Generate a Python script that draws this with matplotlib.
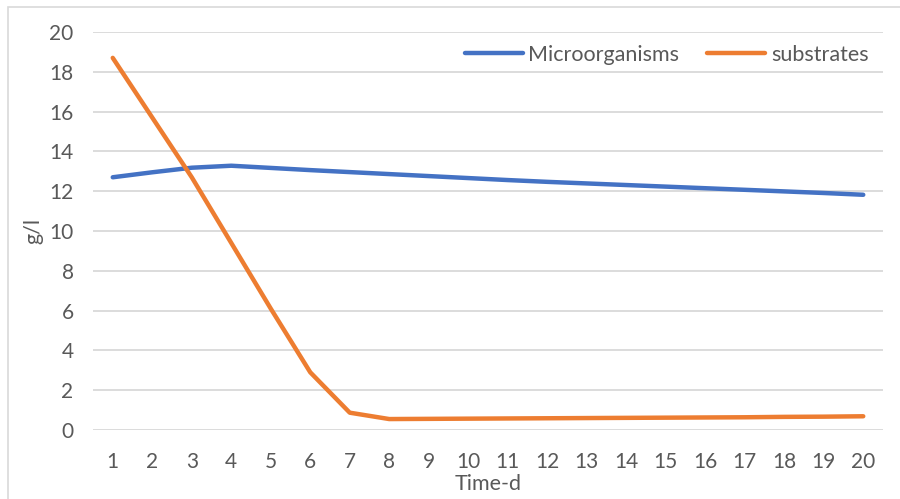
import matplotlib.pyplot as plt
from matplotlib.patches import Rectangle

# data
days = list(range(1, 21))
microorganisms = [12.70, 12.95, 13.18, 13.28, 13.17, 13.06, 12.96, 12.86, 12.76, 12.66,
                  12.56, 12.47, 12.39, 12.31, 12.23, 12.15, 12.07, 11.99, 11.91, 11.82]
substrates = [18.70, 15.70, 12.70, 9.40, 6.10, 2.90, 0.87, 0.55, 0.56, 0.57,
              0.58, 0.59, 0.60, 0.61, 0.62, 0.63, 0.64, 0.66, 0.67, 0.69]
yticks = list(range(0, 21, 2))

plt.rcParams['font.family'] = ['Lato', 'DejaVu Sans']
txt = '#595959'
grid = '#d9d9d9'

fig = plt.figure(figsize=(9, 4.99), dpi=100)
ax = fig.add_axes([93 / 900, 1 - 430 / 499, 790 / 900, 398 / 499])

ax.plot(days, microorganisms, color='#4472C4', lw=3.2, solid_capstyle='round',
        solid_joinstyle='round', label='Microorganisms')
ax.plot(days, substrates, color='#ED7D31', lw=3.2, solid_capstyle='round',
        solid_joinstyle='round', label='substrates')

ax.set_xlim(0.5, 20.5)
ax.set_ylim(0, 20)
ax.set_xticks(days)
ax.set_yticks(yticks)
ax.grid(axis='y', color=grid, lw=1.3)
ax.set_axisbelow(True)
for s in ax.spines.values():
    s.set_visible(False)
ax.tick_params(length=0, labelsize=15, labelcolor=txt)
ax.tick_params(axis='y', pad=14)
ax.tick_params(axis='x', pad=16)

ax.set_xlabel('Time-d', fontsize=15.5, color=txt, labelpad=1)
ax.set_ylabel('g/l', fontsize=15.5, color=txt, labelpad=4)

ax.legend(loc='upper right', bbox_to_anchor=(0.998, 1.0), frameon=False, ncol=2,
          fontsize=15.5, labelcolor=txt, handlelength=2.7, handletextpad=0.25,
          columnspacing=1.3, borderaxespad=0.2)

# chart border
fig.patches.append(Rectangle((8 / 900, -0.1), 1.0, 1 - 7 / 499 + 0.1,
                             transform=fig.transFigure, fill=False,
                             edgecolor=grid, lw=1.2))

fig.savefig('out.png', dpi=100)
